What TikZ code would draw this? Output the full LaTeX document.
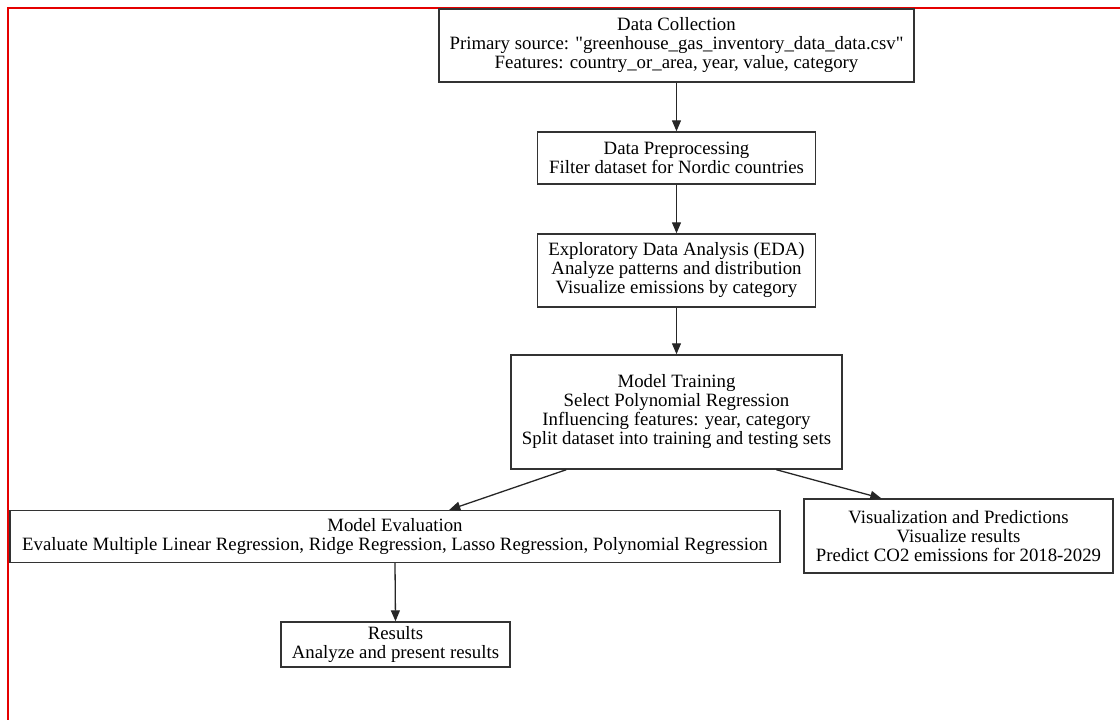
\documentclass[tikz,border=0pt]{standalone}
\usepackage{fontspec}
\setmainfont[Ligatures=TeXOff]{Liberation Serif}
\usetikzlibrary{arrows.meta}
\begin{document}
\begin{tikzpicture}[x=1pt,y=-1pt,
  box/.style={draw=black!80, line width=1.4pt, inner sep=0pt, align=center,
    font=\fontsize{18.8}{19}\selectfont},
  arr/.style={draw=black!85, line width=1.3pt, -{Triangle[length=11pt,width=9pt]}}]
\useasboundingbox (0,0) rectangle (1120,720);
\draw[red!90!black, line width=1.2pt] (8,720) -- (8,8) -- (1120,8);
\node[box, minimum width=475pt, minimum height=73pt] (dc) at (676.5,45.5)
  {Data Collection\\Primary source: "greenhouse\_gas\_inventory\_data\_data.csv"\\Features: country\_or\_area, year, value, category};
\node[box, minimum width=278pt, minimum height=52pt] (dp) at (676.5,158)
  {Data Preprocessing\\Filter dataset for Nordic countries};
\node[box, minimum width=278pt, minimum height=73pt] (eda) at (676.5,270.5)
  {Exploratory Data Analysis (EDA)\\Analyze patterns and distribution\\Visualize emissions by category};
\node[box, minimum width=331pt, minimum height=114pt] (mt) at (676.5,412)
  {Model Training\\Select Polynomial Regression\\Influencing features: year, category\\Split dataset into training and testing sets};
\node[box, minimum width=770pt, minimum height=52pt] (me) at (395,536.5)
  {Model Evaluation\\Evaluate Multiple Linear Regression, Ridge Regression, Lasso Regression, Polynomial Regression};
\node[box, minimum width=309pt, minimum height=74pt] (vp) at (958.5,536)
  {Visualization and Predictions\\Visualize results\\Predict CO2 emissions for 2018-2029};
\node[box, minimum width=229pt, minimum height=45pt] (res) at (395.5,644.5)
  {Results\\Analyze and present results};
\draw[arr] (dc.south) -- (dp.north);
\draw[arr] (dp.south) -- (eda.north);
\draw[arr] (eda.south) -- (mt.north);
\draw[arr] ([xshift=56pt]mt.south west) -- ([xshift=440pt]me.north west);
\draw[arr] ([xshift=266pt]mt.south west) -- ([xshift=78pt]vp.north west);
\draw[arr] (me.south) -- (res.north);
\end{tikzpicture}
\end{document}
